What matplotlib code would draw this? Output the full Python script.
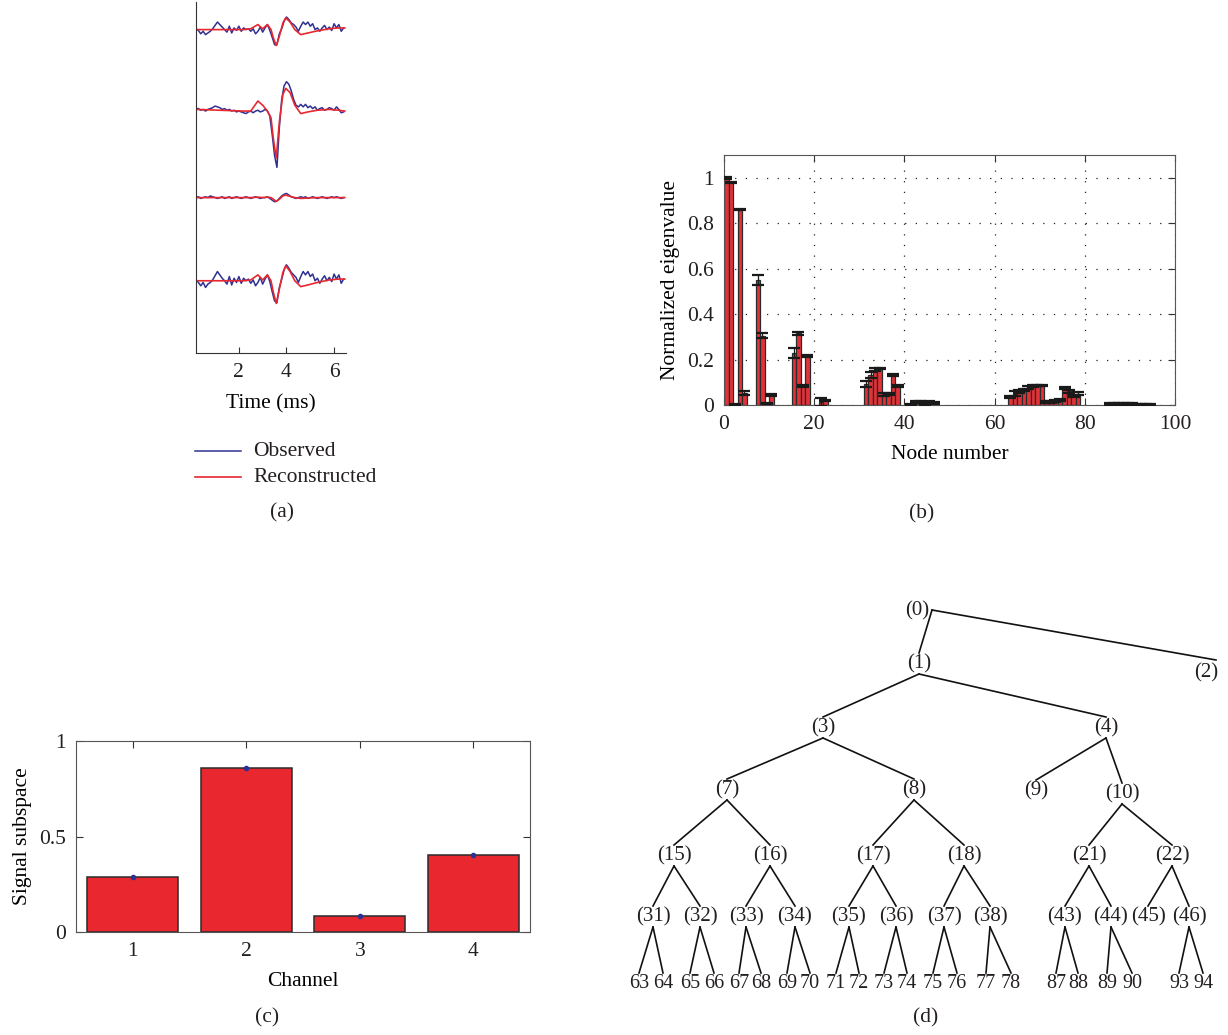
import numpy as np
import matplotlib.pyplot as plt

plt.rcParams['font.family'] = ['Liberation Serif', 'DejaVu Serif']
plt.rcParams['font.size'] = 15.5
plt.rcParams['text.color'] = '#231f20'
plt.rcParams['xtick.color'] = '#333333'
plt.rcParams['ytick.color'] = '#333333'
plt.rcParams['xtick.labelcolor'] = '#231f20'
plt.rcParams['ytick.labelcolor'] = '#231f20'

W, H = 1228, 1035
RED = '#e8282e'
BLUE = '#2e3192'
EDGE = '#2b2b2b'

# ---------------- (a) observed / reconstructed waveforms ----------------
t_obs = np.round(np.arange(0.2, 6.45, 0.1), 2)   # 63 samples, ms
obs_ch1 = [0.01, -0.01, -0.05, -0.02, -0.06, -0.04, -0.02, 0.01, 0.05, 0.09,
           0.06, 0.03, 0.0, -0.03, 0.04, -0.04, 0.02, -0.01, 0.04, -0.02,
           0.02, 0.0, 0.01, -0.02, 0.01, -0.05, -0.02, 0.03, -0.03, 0.02,
           0.06, -0.01, -0.09, -0.18, -0.18, -0.05, 0.01, 0.10, 0.15, 0.12,
           0.08, 0.06, 0.03, -0.02, 0.04, 0.09, 0.06, 0.09, 0.04, 0.07,
           0.0, 0.02, -0.02, 0.02, 0.05, 0.0, 0.03, -0.01, 0.07, 0.02,
           0.06, -0.02, 0.02]
obs_ch2 = [0.01, 0.01, -0.01, 0.0, -0.02, 0.0, 0.01, 0.02, 0.04, 0.03,
           0.02, 0.0, 0.01, -0.01, 0.0, -0.02, -0.01, -0.03, -0.02, -0.03,
           -0.04, -0.05, -0.03, -0.02, -0.04, -0.02, -0.01, -0.03, -0.02, 0.0,
           -0.02, -0.08, -0.30, -0.55, -0.69, -0.22, 0.12, 0.28, 0.33, 0.30,
           0.22, 0.12, 0.05, 0.03, 0.06, 0.03, 0.06, 0.02, 0.04, 0.01,
           0.03, -0.01, 0.01, 0.02, -0.01, 0.0, 0.02, 0.01, -0.01, 0.03,
           0.0, -0.04, -0.03]
obs_ch3 = [0.0, 0.01, -0.01, 0.0, 0.01, 0.0, 0.02, 0.01, 0.0, -0.01,
           0.0, 0.01, -0.01, 0.0, 0.01, -0.01, 0.0, 0.01, 0.0, -0.01,
           0.0, 0.01, 0.0, -0.01, 0.0, 0.01, 0.0, -0.01, 0.0, 0.0,
           0.01, -0.01, -0.03, -0.05, -0.04, -0.01, 0.02, 0.04, 0.05, 0.03,
           0.01, 0.0, -0.01, 0.0, 0.01, 0.0, 0.01, -0.01, 0.0, 0.01,
           0.0, -0.01, 0.0, 0.01, 0.0, -0.01, 0.0, 0.01, 0.0, 0.01,
           0.0, -0.01, 0.0]
obs_ch4 = [0.01, -0.02, -0.06, -0.02, -0.08, -0.04, -0.02, 0.01, 0.06, 0.11,
           0.07, 0.03, 0.0, -0.04, 0.05, -0.05, 0.03, -0.02, 0.05, -0.03,
           0.03, 0.0, 0.02, -0.03, 0.01, -0.06, -0.02, 0.04, -0.04, 0.02,
           0.07, -0.01, -0.13, -0.24, -0.26, -0.08, 0.02, 0.13, 0.19, 0.15,
           0.10, 0.07, 0.04, -0.02, 0.05, 0.11, 0.07, 0.11, 0.05, 0.08,
           0.0, 0.03, -0.03, 0.02, 0.06, 0.0, 0.04, -0.01, 0.08, 0.02,
           0.07, -0.03, 0.02]

t_rec = [0.2, 2.2, 2.5, 2.8, 3.0, 3.2, 3.35, 3.45, 3.57, 3.7,
         3.85, 3.97, 4.15, 4.35, 4.6, 4.9, 5.3, 5.8, 6.2, 6.45]
rec_ch1 = [0.0, 0.0, 0.01, 0.06, 0.01, 0.06, 0.0, -0.1, -0.19, -0.08,
           0.08, 0.14, 0.09, 0.0, -0.06, -0.04, -0.015, 0.01, 0.02, 0.02]
rec_ch2 = [0.0, -0.02, -0.02, 0.10, 0.05, -0.02, -0.10, -0.35, -0.58, -0.15,
           0.18, 0.25, 0.20, 0.05, -0.05, -0.03, -0.01, 0.0, -0.01, -0.02]
rec_ch3 = [0.0, 0.0, 0.0, 0.005, 0.0, 0.005, 0.0, -0.02, -0.045, -0.02,
           0.02, 0.03, 0.015, 0.0, -0.01, -0.005, 0.0, 0.0, 0.0, 0.0]
rec_ch4 = [0.0, 0.0, 0.01, 0.07, 0.01, 0.07, 0.0, -0.14, -0.27, -0.10,
           0.10, 0.18, 0.11, 0.0, -0.07, -0.05, -0.02, 0.01, 0.02, 0.02]
channel_offsets = [3.85, 2.90, 1.85, 0.86]

# ---------------- (b) normalized eigenvalues per node ----------------
nodes_b = [0, 1, 2, 3, 4, 7, 8, 9, 10, 15, 16, 17, 18, 21, 22,
           31, 32, 33, 34, 35, 36, 37, 38, 41, 42, 43, 44, 45, 46,
           63, 64, 65, 66, 67, 68, 69, 70, 71, 72, 73, 74, 75, 76, 77, 78,
           85, 86, 87, 88, 89, 90, 91, 92, 93, 94]
eig_mean = [1.0, 0.98, 0.004, 0.86, 0.052, 0.55, 0.305, 0.005, 0.045,
            0.228, 0.315, 0.085, 0.215, 0.012, 0.02,
            0.093, 0.133, 0.155, 0.16, 0.045, 0.05, 0.132, 0.085,
            0.003, 0.012, 0.012, 0.004, 0.012, 0.008,
            0.034, 0.05, 0.06, 0.066, 0.077, 0.085, 0.085, 0.085,
            0.014, 0.014, 0.018, 0.022, 0.075, 0.06, 0.04, 0.05,
            0.006, 0.006, 0.006, 0.006, 0.006, 0.006, 0.002, 0.002, 0.002, 0.002]
eig_err = [0.005, 0.003, 0.002, 0.002, 0.008, 0.02, 0.012, 0.002, 0.005,
           0.022, 0.008, 0.004, 0.003, 0.018, 0.004,
           0.013, 0.012, 0.006, 0.003, 0.006, 0.004, 0.004, 0.004,
           0.002, 0.005, 0.005, 0.003, 0.005, 0.004,
           0.004, 0.012, 0.008, 0.006, 0.005, 0.004, 0.003, 0.003,
           0.004, 0.003, 0.004, 0.004, 0.004, 0.006, 0.005, 0.006,
           0.005, 0.005, 0.005, 0.005, 0.005, 0.005, 0.001, 0.001, 0.001, 0.001]

# ---------------- (c) signal subspace per channel ----------------
channels = [1, 2, 3, 4]
subspace = [0.29, 0.86, 0.084, 0.403]

# ---------------- (d) wavelet packet tree ----------------
tree_nodes = [0, 1, 2, 3, 4, 7, 8, 9, 10, 15, 16, 17, 18, 21, 22,
              31, 32, 33, 34, 35, 36, 37, 38, 43, 44, 45, 46,
              63, 64, 65, 66, 67, 68, 69, 70, 71, 72, 73, 74, 75, 76, 77, 78,
              87, 88, 89, 90, 93, 94]
tree_x = [917, 919, 1206, 823, 1106, 727, 914, 1036, 1122, 674, 770, 873, 964, 1089, 1172,
          653, 700, 746, 795, 849, 896, 944, 990, 1065, 1111, 1148, 1189,
          639, 663, 690, 714, 739, 761, 787, 810, 836, 859, 884, 907, 933, 957, 986, 1011,
          1056, 1078, 1107, 1132, 1179, 1203]
level_y = [611, 664, 728, 790, 856, 917, 984]
node_y_shift = {2: 9, 10: 4, 9: 1}
leaf_first = 63


def frac_box(left, top, right, bottom):
    return [left / W, 1 - bottom / H, (right - left) / W, (bottom - top) / H]


fig = plt.figure(figsize=(W / 100, H / 100), dpi=100)

# overlay in pixel units for the tree, captions and legend
ov = fig.add_axes([0, 0, 1, 1])
ov.set_xlim(0, W)
ov.set_ylim(H, 0)
ov.axis('off')

# (a)
ax_a = fig.add_axes(frac_box(196, 2, 346, 353))
for obs, t_off in zip([obs_ch1, obs_ch2, obs_ch3, obs_ch4], channel_offsets):
    ax_a.plot(t_obs, np.array(obs) + t_off, color=BLUE, lw=1.1)
for rec, t_off in zip([rec_ch1, rec_ch2, rec_ch3, rec_ch4], channel_offsets):
    ax_a.plot(t_rec, np.array(rec) + t_off, color=RED, lw=1.2)
ax_a.set_xlim(0.2, 6.5)
ax_a.set_ylim(0, 351 / 84)
ax_a.spines[['top', 'right']].set_visible(False)
for s in ['left', 'bottom']:
    ax_a.spines[s].set_color('#333333')
ax_a.set_yticks([])
ax_a.set_xticks([2, 4, 6])
ax_a.tick_params(axis='x', direction='in', length=4, pad=7)
ax_a.set_xlabel('Time (ms)', labelpad=9)

ov.plot([195, 241], [451, 451], color=BLUE, lw=1.1)
ov.plot([195, 241], [477, 477], color=RED, lw=1.2)
ov.text(253, 451, 'Observed', va='center', ha='left')
ov.text(253, 477, 'Reconstructed', va='center', ha='left')

# (b)
ax_b = fig.add_axes(frac_box(724, 155, 1175, 405))
pos_b = np.array(nodes_b) + 0.5
ax_b.bar(pos_b, eig_mean, width=1.0, color='#e23238', edgecolor=EDGE, lw=0.9, zorder=2)
ax_b.errorbar(pos_b, eig_mean, yerr=eig_err, fmt='none', ecolor='#1a1a1a',
              elinewidth=0.9, capsize=4.5, capthick=1.6, zorder=3)
ax_b.set_xlim(0, 100)
ax_b.set_ylim(0, 1.1)
ax_b.set_xticks([0, 20, 40, 60, 80, 100])
ax_b.set_yticks([0, 0.2, 0.4, 0.6, 0.8, 1.0])
ax_b.set_yticklabels(['0', '0.2', '0.4', '0.6', '0.8', '1'])
ax_b.grid(True, linestyle=(0, (1, 7.5)), color='#222222', lw=0.9)
ax_b.set_axisbelow(True)
ax_b.tick_params(direction='in', length=5, top=True, right=True, pad=7)
for s in ax_b.spines.values():
    s.set_color('#555555')
ax_b.set_xlabel('Node number', labelpad=8)
ax_b.set_ylabel('Normalized eigenvalue', labelpad=5)

# (c)
ax_c = fig.add_axes(frac_box(76, 741, 530, 932))
ax_c.bar(channels, subspace, width=0.8, color=RED, edgecolor=EDGE, lw=1.1, zorder=2)
ax_c.plot(channels, subspace, ls='none', marker='o', ms=3, color=BLUE, zorder=3)
ax_c.set_xlim(0.5, 4.5)
ax_c.set_ylim(0, 1)
ax_c.set_xticks(channels)
ax_c.set_yticks([0, 0.5, 1])
ax_c.set_yticklabels(['0', '0.5', '1'])
ax_c.tick_params(direction='in', length=5, top=True, right=True, pad=7)
for s in ax_c.spines.values():
    s.set_color('#555555')
ax_c.set_xlabel('Channel', labelpad=8)
ax_c.set_ylabel('Signal subspace', labelpad=5)

# (d) tree: children of node n are 2n+1 and 2n+2
node_pos = {}
for n, x in zip(tree_nodes, tree_x):
    lvl = int(np.log2(n + 1))
    node_pos[n] = (x, level_y[lvl] + node_y_shift.get(n, 0))

for n in tree_nodes:
    px, py = node_pos[n]
    for c in (2 * n + 1, 2 * n + 2):
        if c not in node_pos:
            continue
        cx, cy = node_pos[c]
        x0, y0 = (px + 15, py - 1) if n == 0 else (px, py + 10)
        x1, y1 = (cx + 10, cy - 13) if c == 2 else (cx, cy - 11)
        ov.plot([x0, x1], [y0, y1], color='#111111', lw=1.2)

for n in tree_nodes:
    x, y = node_pos[n]
    if n >= leaf_first:
        ov.text(x, y, str(n), ha='center', va='center', fontsize=14.5)
    else:
        ov.text(x, y, '(%d)' % n, ha='center', va='center', fontsize=15)

# panel captions
for cap, cx, cy in [('(a)', 282, 513), ('(b)', 922, 514), ('(c)', 267, 1018), ('(d)', 926, 1018)]:
    ov.text(cx, cy, cap, ha='center', va='center')

fig.savefig('out.png', dpi=100)
